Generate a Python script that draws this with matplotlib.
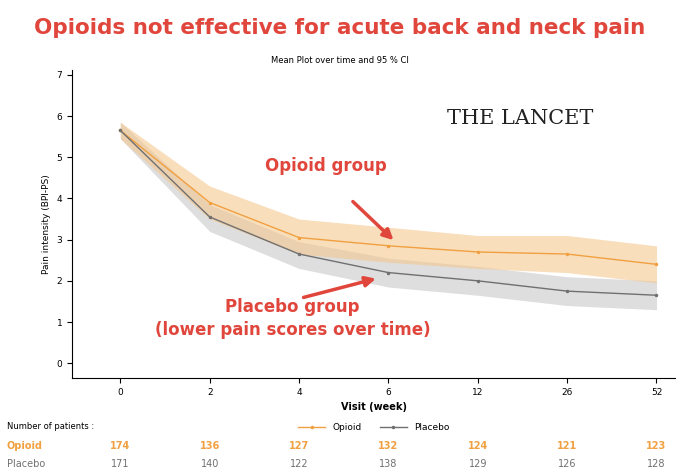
import matplotlib
matplotlib.use("Agg")
from matplotlib import pyplot as plt

visits = ["0", "2", "4", "6", "12", "26", "52"]
opioid = [5.65, 3.9, 3.05, 2.85, 2.7, 2.65, 2.4]
opioid_hi = [5.85, 4.3, 3.5, 3.3, 3.1, 3.1, 2.85]
opioid_lo = [5.45, 3.5, 2.65, 2.45, 2.3, 2.2, 1.95]
placebo = [5.65, 3.55, 2.65, 2.2, 2.0, 1.75, 1.65]
placebo_hi = [5.85, 3.85, 2.95, 2.55, 2.35, 2.1, 2.0]
placebo_lo = [5.45, 3.2, 2.3, 1.85, 1.65, 1.4, 1.3]
n_opioid = [174, 136, 127, 132, 124, 121, 123]
n_placebo = [171, 140, 122, 138, 129, 126, 128]

orange = "#f0a040"
grey = "#707070"
red = "#e0463c"

fig = plt.figure(figsize=(6.8, 4.72), dpi=100)
ax = fig.add_axes([0.106, 0.199, 0.887, 0.653])
x = list(range(len(visits)))
ax.fill_between(x, placebo_lo, placebo_hi, color="#d0d0d0", alpha=0.7, lw=0)
ax.fill_between(x, opioid_lo, opioid_hi, color="#f5c890", alpha=0.6, lw=0)
ax.plot(x, opioid, color=orange, lw=1, marker="o", ms=1.5, label="Opioid")
ax.plot(x, placebo, color=grey, lw=1, marker="o", ms=1.5, label="Placebo")
ax.set_xlim(-0.54, 6.21)
ax.set_ylim(-0.36, 7.12)
ax.set_xticks(x)
ax.set_xticklabels(visits, fontsize=6.5)
ax.set_yticks(range(8))
ax.tick_params(labelsize=6.5)
ax.spines["top"].set_visible(False)
ax.spines["right"].set_visible(False)
ax.set_xlabel("Visit (week)", fontsize=7, fontweight="bold")
ax.set_ylabel("Pain intensity (BPI-PS)", fontsize=6.5)

fig.text(0.5, 0.94, "Opioids not effective for acute back and neck pain",
         ha="center", va="center", color=red, fontsize=15.5, fontweight="bold")
fig.text(0.5, 0.872, "Mean Plot over time and 95 % CI", ha="center", va="center", fontsize=6)
fig.text(0.765, 0.75, "THE LANCET", ha="center", va="center", fontsize=15,
         family="DejaVu Serif", color="#222222")

ax.annotate("", xy=(3.08, 2.94), xytext=(2.58, 3.97),
            arrowprops=dict(arrowstyle="-|>", color=red, lw=2.5, mutation_scale=15))
fig.text(0.39, 0.648, "Opioid group", ha="left", va="center", color=red,
         fontsize=12, fontweight="bold")
ax.annotate("", xy=(2.89, 2.07), xytext=(2.02, 1.58),
            arrowprops=dict(arrowstyle="-|>", color=red, lw=2.5, mutation_scale=15))
fig.text(0.43, 0.325, "Placebo group\n(lower pain scores over time)", ha="center",
         va="center", color=red, fontsize=12, fontweight="bold", linespacing=1.4)

ax.legend(loc="upper center", bbox_to_anchor=(0.5, -0.12), ncol=2, frameon=False,
          fontsize=6.5, handlelength=3)

fig.text(0.01, 0.097, "Number of patients :", fontsize=6, va="center")
fig.text(0.01, 0.055, "Opioid", fontsize=7, va="center", color=orange, fontweight="bold")
fig.text(0.01, 0.016, "Placebo", fontsize=7, va="center", color=grey)
for i in x:
    xf = fig.transFigure.inverted().transform(ax.transData.transform((i, 0)))[0]
    fig.text(xf, 0.055, str(n_opioid[i]), ha="center", va="center", fontsize=7,
             color=orange, fontweight="bold")
    fig.text(xf, 0.016, str(n_placebo[i]), ha="center", va="center", fontsize=7, color=grey)

fig.savefig("out.png", dpi=100)
